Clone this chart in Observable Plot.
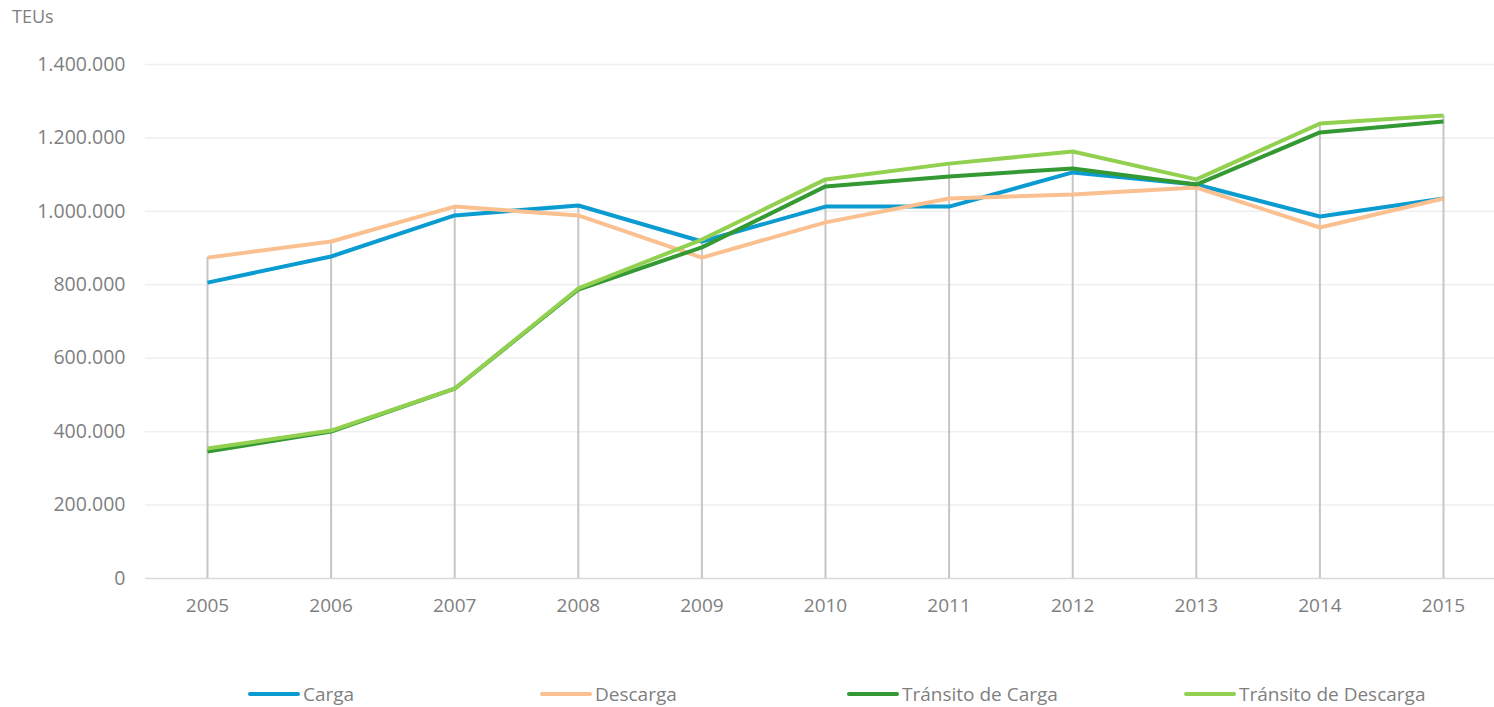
<!DOCTYPE html>
<html>
<head>
<meta charset="utf-8">
<script src="https://cdn.jsdelivr.net/npm/d3@7"></script>
<script src="https://cdn.jsdelivr.net/npm/@observablehq/plot@0.6"></script>
<style>
  html, body { margin: 0; padding: 0; background: #fff; }
  body { position: relative; width: 1494px; height: 707px; overflow: hidden; font-family: "Open Sans", sans-serif; }
  #ylabel { position: absolute; left: 12px; top: 4px; font-size: 18px; color: #7f7f7f; }
  .leg { position: absolute; top: 681px; display: flex; align-items: center; font-size: 19px; color: #7f7f7f; white-space: nowrap; }
  .leg .sw { width: 52px; height: 4px; border-radius: 2px; margin-right: 3px; }
  #chart { position: absolute; left: 0; top: 0; }
</style>
</head>
<body>
<div id="chart"></div>
<div id="ylabel">TEUs</div>
<div id="legend"></div>
<script>
const years = [2005, 2006, 2007, 2008, 2009, 2010, 2011, 2012, 2013, 2014, 2015];
const seriesNames = ["Carga", "Descarga", "Tránsito de Carga", "Tránsito de Descarga"];
const seriesColors = ["#0a9bd0", "#fac090", "#339933", "#92d050"];
const carga = [806000, 877000, 989000, 1016000, 918000, 1013000, 1013000, 1106000, 1073000, 986000, 1035000];
const descarga = [874000, 918000, 1013000, 989000, 874000, 970000, 1035000, 1046000, 1065000, 956000, 1035000];
const transitoCarga = [346000, 400000, 517000, 787000, 902000, 1068000, 1095000, 1117000, 1073000, 1215000, 1245000];
const transitoDescarga = [354000, 403000, 517000, 790000, 923000, 1087000, 1130000, 1163000, 1087000, 1239000, 1261000];
const yTicks = [0, 200000, 400000, 600000, 800000, 1000000, 1200000, 1400000];
const legendX = [248, 540, 847, 1184];

const allSeries = [carga, descarga, transitoCarga, transitoDescarga];
const data = [];
allSeries.forEach((vals, i) => {
  vals.forEach((v, j) => data.push({series: seriesNames[i], year: years[j], value: v}));
});
const tops = years.map((y, j) => ({year: y, max: d3.max(allSeries, s => s[j])}));

const fmt = d3.formatLocale({decimal: ",", thousands: ".", grouping: [3], currency: ["", "€"]}).format(",.0f");

const chart = Plot.plot({
  width: 1494,
  height: 660,
  marginLeft: 145,
  marginRight: 0,
  marginTop: 64,
  marginBottom: 82,
  x: {domain: [2005, 2015], range: [207, 1443], axis: null},
  y: {domain: [0, 1400000], range: [578, 64], axis: null},
  color: {domain: seriesNames, range: seriesColors},
  style: {fontFamily: "Open Sans", fontSize: "19px", color: "#7f7f7f", background: "white"},
  marks: [
    Plot.ruleY(yTicks.filter(d => d > 0), {stroke: "#efefef", strokeWidth: 1.5}),
    Plot.ruleY([0], {stroke: "#d9d9d9", strokeWidth: 1.5}),
    Plot.ruleX(tops, {x: "year", y1: 0, y2: "max", stroke: "#c6c6c6", strokeWidth: 2}),
    Plot.line(data, {x: "year", y: "value", z: "series", stroke: "series", strokeWidth: 4, strokeLinejoin: "round", strokeLinecap: "butt"}),
    Plot.axisY(yTicks, {anchor: "left", tickSize: 0, tickPadding: 20, tickFormat: fmt, label: null, fontSize: 19.5, fill: "#7f7f7f"}),
    Plot.axisX(years, {anchor: "bottom", tickSize: 0, tickPadding: 20, tickFormat: d => String(d), label: null, fontSize: 19, fill: "#7f7f7f"})
  ]
});
document.getElementById("chart").appendChild(chart);

const legend = document.getElementById("legend");
seriesNames.forEach((name, i) => {
  const item = document.createElement("div");
  item.className = "leg";
  item.style.left = legendX[i] + "px";
  const sw = document.createElement("div");
  sw.className = "sw";
  sw.style.background = seriesColors[i];
  const tx = document.createElement("span");
  tx.textContent = name;
  item.appendChild(sw);
  item.appendChild(tx);
  legend.appendChild(item);
});
</script>
</body>
</html>
